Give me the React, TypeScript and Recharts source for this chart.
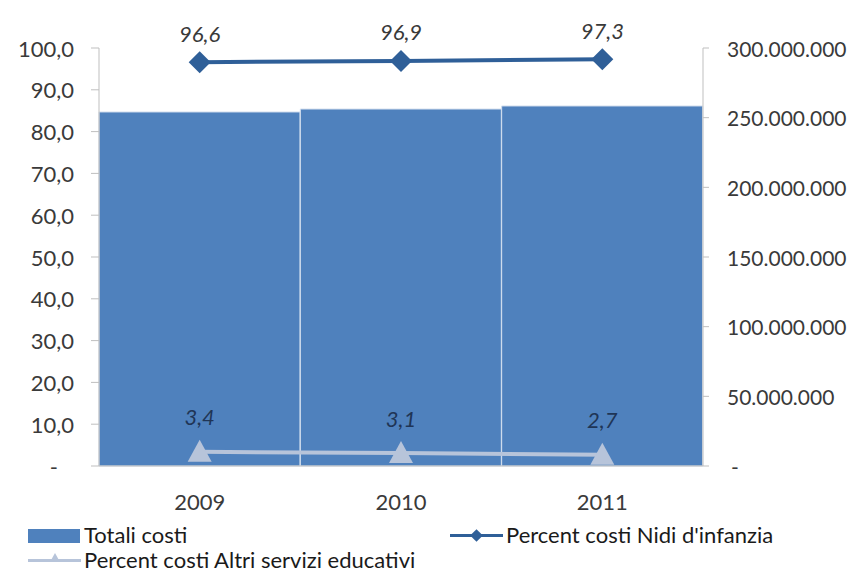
import { ComposedChart, Bar, Line, XAxis, YAxis, LabelList } from 'recharts'

const anni = ['2009', '2010', '2011']
const totaliCosti = [254100000, 256200000, 258400000]
const percNidi = [96.6, 96.9, 97.3]
const percAltri = [3.4, 3.1, 2.7]
const tickSinistra = [0, 10, 20, 30, 40, 50, 60, 70, 80, 90, 100]
const tickDestra = [0, 50000000, 100000000, 150000000, 200000000, 250000000, 300000000]

const dati = anni.map((anno, i) => ({
  anno,
  totale: totaliCosti[i],
  nidi: percNidi[i],
  altri: percAltri[i],
}))

const FONT = 'Lato, "Open Sans", sans-serif'
const GRIGIO = '#3a3a3a'
const BLU_BARRE = '#4f81bd'
const BLU_NIDI = '#2f5f98'
const AZZURRO_ALTRI = '#b7c4da'

const virgola = (v: number) => v.toFixed(1).replace('.', ',')
const puntini = (v: number) => String(v).replace(/\B(?=(\d{3})+(?!\d))/g, '.')

function TickSinistra({ x, y, payload }: any) {
  const zero = payload.value === 0
  return (
    <text x={zero ? x - 16 : x} y={y} textAnchor="end" dominantBaseline="central" fill={GRIGIO} fontSize={22} fontFamily={FONT}>
      {zero ? '-' : virgola(payload.value)}
    </text>
  )
}

function TickDestra({ x, y, payload }: any) {
  const zero = payload.value === 0
  return (
    <text x={zero ? x + 4 : x} y={y} textAnchor="start" dominantBaseline="central" fill={GRIGIO} fontSize={21} fontFamily={FONT}>
      {zero ? '-' : puntini(payload.value)}
    </text>
  )
}

function Rombo({ cx, cy }: any) {
  if (cx == null || cy == null) return null
  const r = 11
  return <path d={`M${cx},${cy - r}L${cx + r},${cy}L${cx},${cy + r}L${cx - r},${cy}Z`} fill={BLU_NIDI} />
}

function Triangolo({ cx, cy }: any) {
  if (cx == null || cy == null) return null
  return <path d={`M${cx},${cy - 12}L${cx + 12},${cy + 10}L${cx - 12},${cy + 10}Z`} fill={AZZURRO_ALTRI} />
}

const etichetta = (dy: number, colore: string) => (p: any) => (
  <text x={p.x} y={p.y - dy} textAnchor="middle" dominantBaseline="central" fill={colore} fontSize={22} fontStyle="italic" fontFamily={FONT}>
    {virgola(p.value)}
  </text>
)

function Legenda() {
  const testo = { position: 'absolute' as const, fontSize: 22, color: '#1a1a1a', fontFamily: FONT, lineHeight: '24px', whiteSpace: 'nowrap' as const }
  return (
    <div style={{ position: 'absolute', left: 0, top: 515, width: 852, height: 58 }}>
      <div style={{ position: 'absolute', left: 28, top: 14, width: 52, height: 14, background: BLU_BARRE }} />
      <div style={{ ...testo, left: 84, top: 8 }}>Totali costi</div>
      <div style={{ position: 'absolute', left: 450, top: 19, width: 53, height: 3, background: BLU_NIDI }} />
      <div style={{ position: 'absolute', left: 472, top: 16, width: 9, height: 9, background: BLU_NIDI, transform: 'rotate(45deg)' }} />
      <div style={{ ...testo, left: 506, top: 8 }}>Percent costi Nidi d'infanzia</div>
      <div style={{ position: 'absolute', left: 28, top: 44, width: 53, height: 3, background: AZZURRO_ALTRI }} />
      <div style={{ position: 'absolute', left: 50, top: 38, width: 0, height: 0, borderLeft: '5px solid transparent', borderRight: '5px solid transparent', borderBottom: `9px solid ${AZZURRO_ALTRI}` }} />
      <div style={{ ...testo, left: 84, top: 33 }}>Percent costi Altri servizi educativi</div>
    </div>
  )
}

export default function App() {
  return (
    <div style={{ position: 'absolute', left: 0, top: 0, width: 852, height: 573, background: '#fff' }}>
      <ComposedChart
        width={852}
        height={573}
        data={dati}
        margin={{ top: 48, right: 0, left: 0, bottom: 57 }}
        barCategoryGap={0}
        barGap={0}
      >
        <XAxis
          dataKey="anno"
          axisLine={{ stroke: '#bfbfbf' }}
          tickLine={false}
          height={50}
          tickMargin={22}
          tick={{ fill: GRIGIO, fontSize: 22, fontFamily: FONT }}
        />
        <YAxis
          yAxisId="perc"
          orientation="left"
          width={99}
          domain={[0, 100]}
          ticks={tickSinistra}
          interval={0}
          axisLine={{ stroke: '#bfbfbf' }}
          tickLine={{ stroke: '#bfbfbf' }}
          tickSize={8}
          tickMargin={17}
          tick={<TickSinistra />}
        />
        <YAxis
          yAxisId="tot"
          orientation="right"
          width={149}
          domain={[0, 300000000]}
          ticks={tickDestra}
          interval={0}
          axisLine={{ stroke: '#bfbfbf' }}
          tickLine={{ stroke: '#bfbfbf' }}
          tickSize={6}
          tickMargin={18}
          tick={<TickDestra />}
        />
        <Bar yAxisId="tot" dataKey="totale" name="Totali costi" fill={BLU_BARRE} stroke="#d5e0ef" strokeWidth={1} isAnimationActive={false} />
        <Line yAxisId="perc" dataKey="altri" name="Percent costi Altri servizi educativi" stroke={AZZURRO_ALTRI} strokeWidth={4} dot={<Triangolo />} activeDot={false} isAnimationActive={false}>
          <LabelList dataKey="altri" content={etichetta(35, '#1f3556')} />
        </Line>
        <Line yAxisId="perc" dataKey="nidi" name="Percent costi Nidi d'infanzia" stroke={BLU_NIDI} strokeWidth={4} dot={<Rombo />} activeDot={false} isAnimationActive={false}>
          <LabelList dataKey="nidi" content={etichetta(29, GRIGIO)} />
        </Line>
      </ComposedChart>
      <Legenda />
    </div>
  )
}
